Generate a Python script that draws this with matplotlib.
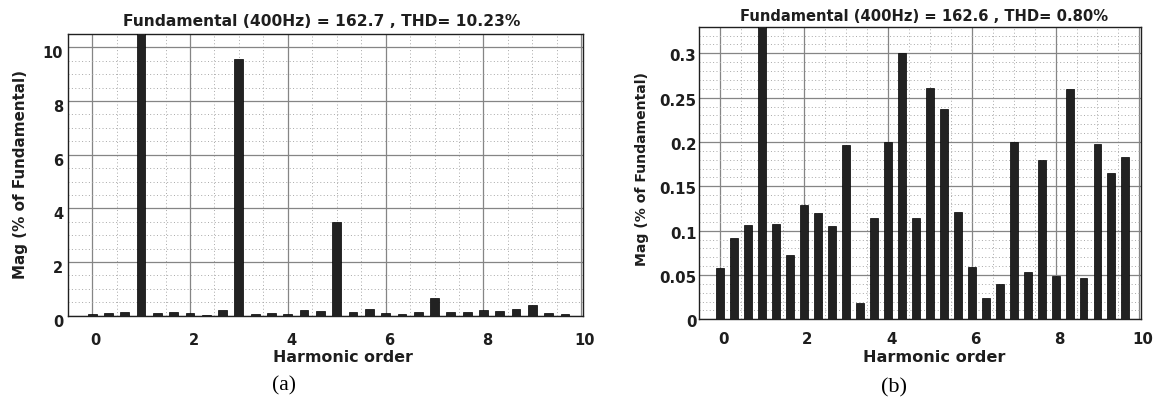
import numpy as np
import matplotlib.pyplot as plt
from matplotlib.ticker import MultipleLocator, FuncFormatter
from matplotlib.transforms import ScaledTranslation

# harmonic order axis (steps of 1/3 of the 400 Hz fundamental)
orders = np.arange(30) / 3

# (a) magnitudes, % of fundamental (fundamental bar is clipped by the y limit)
mag_a = [0.06, 0.09, 0.15, 100, 0.09, 0.14, 0.09, 0.04, 0.21, 9.57,
         0.07, 0.09, 0.05, 0.21, 0.16, 3.48, 0.15, 0.24, 0.10, 0.06,
         0.12, 0.65, 0.15, 0.14, 0.20, 0.17, 0.25, 0.40, 0.10, 0.06]

# (b) magnitudes, % of fundamental
mag_b = [0.058, 0.092, 0.106, 100, 0.108, 0.072, 0.129, 0.120, 0.105, 0.197,
         0.018, 0.114, 0.200, 0.300, 0.114, 0.261, 0.237, 0.121, 0.059, 0.024,
         0.040, 0.200, 0.053, 0.180, 0.049, 0.260, 0.047, 0.198, 0.165, 0.183]

title_a = 'Fundamental (400Hz) = 162.7 , THD= 10.23%'
title_b = 'Fundamental (400Hz) = 162.6 , THD= 0.80%'

W, H = 1164, 401
fig = plt.figure(figsize=(W / 100, H / 100), dpi=100)

TXT = '#1e1e1e'


def px_axes(x0, y0, x1, y1):
    # pixel box (top-left origin) -> figure fraction
    return [x0 / W, (H - y1) / H, (x1 - x0) / W, (y1 - y0) / H]


def style(ax, ylim, ymajor, yminor, tick_fs, xpad, ypad, dy, yfmt):
    ax.set_xlim(-0.5, 10.03)
    ax.set_ylim(*ylim)
    ax.xaxis.set_major_locator(MultipleLocator(2))
    ax.xaxis.set_minor_locator(MultipleLocator(0.5))
    ax.yaxis.set_major_locator(MultipleLocator(ymajor))
    ax.yaxis.set_minor_locator(MultipleLocator(yminor))
    ax.yaxis.set_major_formatter(FuncFormatter(yfmt))
    ax.grid(True, which='major', color='#858585', linewidth=0.9, linestyle='-')
    ax.grid(True, which='minor', color='#a8a8a8', linewidth=0.7, linestyle=(0, (1, 2.5)))
    ax.set_axisbelow(True)
    ax.tick_params(which='both', direction='in', length=0, colors=TXT)
    ax.tick_params(axis='x', pad=xpad, labelsize=tick_fs)
    ax.tick_params(axis='y', pad=ypad, labelsize=tick_fs)
    for lab in ax.get_xticklabels() + ax.get_yticklabels():
        lab.set_fontweight('bold')
    for lab in ax.get_xticklabels():
        lab.set_transform(lab.get_transform() + ScaledTranslation(3.5 / 100, 0, fig.dpi_scale_trans))
    for lab in ax.get_yticklabels():
        lab.set_transform(lab.get_transform() + ScaledTranslation(0, -dy / 100, fig.dpi_scale_trans))
    for s in ax.spines.values():
        s.set_color('#202020')
        s.set_linewidth(1.0)


# ---- (a) ----
ax1 = fig.add_axes(px_axes(67.7, 34, 582.7, 315.7))
ax1.bar(orders, mag_a, width=0.18, color='#222222', edgecolor='black', linewidth=0.5, zorder=3)
style(ax1, (0, 10.5), 2, 0.5, 10.5, 12.3, 3.2, 5, lambda v, p: f'{v:g}')
ax1.set_title(title_a, fontsize=11.2, fontweight='bold', color=TXT, x=0.4926, y=1.0284, pad=0)
ax1.set_xlabel('Harmonic order', fontsize=11.4, fontweight='bold', color=TXT, va='center')
ax1.xaxis.set_label_coords(0.5346, -0.148)
ax1.set_ylabel('Mag (% of Fundamental)', fontsize=10.9, fontweight='bold', color=TXT, va='center')
ax1.yaxis.set_label_coords(-0.0926, 0.5)
fig.text(284 / W, 1 - 386 / H, '(a)', family='Liberation Serif', fontsize=15.5,
         ha='center', va='center', color='black')

# ---- (b) ----
ax2 = fig.add_axes(px_axes(699, 26.7, 1140.7, 319.3))
ax2.bar(orders, mag_b, width=0.19, color='#222222', edgecolor='black', linewidth=0.5, zorder=3)
style(ax2, (0, 0.33), 0.05, 0.01, 10.8, 8.9, 1.8, 2, lambda v, p: f'{round(v, 2):g}')
ax2.set_title(title_b, fontsize=10.66, fontweight='bold', color=TXT, x=0.510, y=1.0195, pad=0)
ax2.set_xlabel('Harmonic order', fontsize=11.6, fontweight='bold', color=TXT, va='center')
ax2.xaxis.set_label_coords(0.532, -0.1306)
ax2.set_ylabel('Mag (% of Fundamental)', fontsize=10.1, fontweight='bold', color=TXT, va='center')
ax2.yaxis.set_label_coords(-0.128, 0.513)
fig.text(894 / W, 1 - 387.5 / H, '(b)', family='Liberation Serif', fontsize=16,
         ha='center', va='center', color='black')

fig.savefig('out.png', dpi=100)
